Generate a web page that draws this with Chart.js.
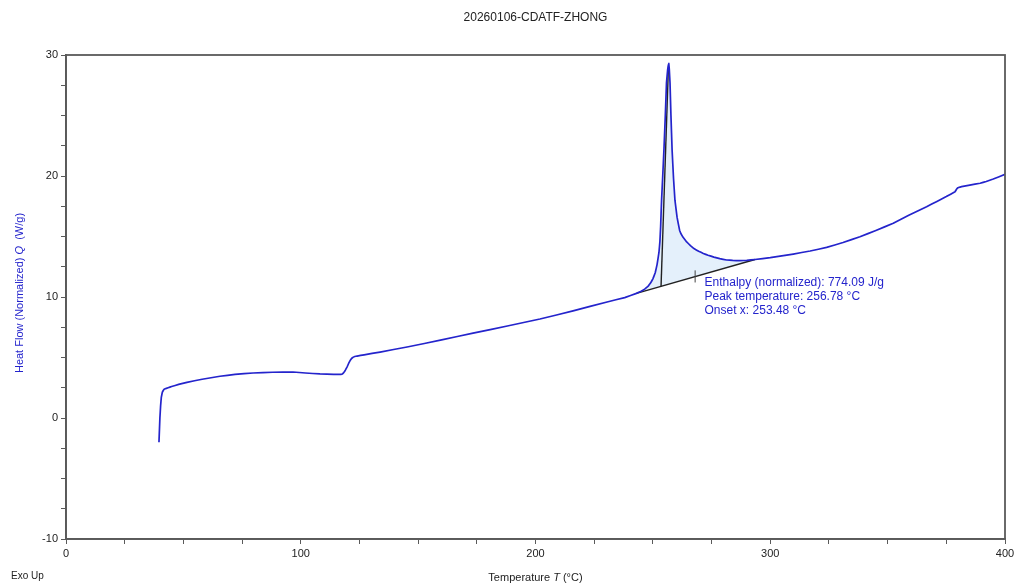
<!DOCTYPE html>
<html>
<head>
<meta charset="utf-8">
<title>20260106-CDATF-ZHONG</title>
<script src="https://cdn.jsdelivr.net/npm/chart.js@4.4.1/dist/chart.umd.min.js"></script>
<style>
  html, body { margin: 0; padding: 0; background: #fff; }
  #wrap { width: 1021px; height: 587px; }
</style>
</head>
<body>
<div id="wrap"><canvas id="dscChart" width="1021" height="587"></canvas></div>
<script>
// DSC trace: temperature (°C) and normalized heat flow (W/g)
var tempC = [
    39.6, 39.8, 40.0, 40.3, 40.6, 41.0, 41.5, 42.0, 43.5, 45.0,
    48.0, 51.5, 58.0, 65.6, 72.0, 79.7, 88.0, 96.7, 102.0, 108.2,
    114.0, 116.0, 117.5, 118.3, 119.0, 119.8, 120.5, 121.2, 122.0, 123.0,
    124.0, 127.0, 133.8, 145.3, 160.0, 173.4, 188.0, 201.9, 216.0, 230.5,
    238.0, 243.0, 245.0, 246.5, 248.0, 249.0, 250.0, 251.0, 251.8, 252.6,
    253.0, 253.3, 253.7, 254.2, 254.7, 255.3, 255.8, 256.3, 256.78, 257.0,
    257.3, 257.7, 258.2, 258.8, 259.4, 260.3, 261.4, 262.8, 264.4, 266.0,
    267.5, 269.5, 271.5, 273.5, 276.0, 278.5, 281.4, 284.0, 287.0, 290.0,
    293.5, 300.0, 309.8, 317.0, 324.0, 331.0, 338.2, 345.0, 352.4, 359.0,
    366.6, 371.0, 375.0, 378.7, 379.5, 380.2, 381.5, 385.0, 389.4, 392.0,
    395.0, 400.0
];
var heatFlow = [
    -2.0, -1.0, 0.0, 1.0, 1.7, 2.1, 2.3, 2.4, 2.5, 2.6,
    2.78, 2.95, 3.2, 3.45, 3.6, 3.72, 3.78, 3.80, 3.72, 3.64,
    3.6, 3.6, 3.62, 3.75, 3.95, 4.25, 4.55, 4.8, 4.98, 5.08,
    5.12, 5.22, 5.45, 5.87, 6.45, 7.02, 7.6, 8.18, 8.85, 9.59,
    9.95, 10.3, 10.48, 10.65, 10.9, 11.15, 11.5, 12.0, 12.7, 13.7,
    14.6, 15.8, 18.0, 20.0, 22.1, 25.0, 27.7, 28.8, 29.3, 28.8,
    27.7, 25.0, 22.1, 19.8, 18.0, 16.6, 15.5, 14.95, 14.55, 14.25,
    14.0, 13.78, 13.6, 13.45, 13.3, 13.17, 13.06, 13.02, 13.0, 13.03,
    13.1, 13.25, 13.55, 13.8, 14.1, 14.5, 14.98, 15.5, 16.09, 16.75,
    17.46, 17.9, 18.3, 18.7, 18.95, 19.05, 19.12, 19.25, 19.4, 19.55,
    19.75, 20.14
];

// integration baseline of the melting peak
var baseX = [243.0, 293.5];
var baseY = [10.3, 13.1];

// onset construction line and the half-area mark
var onsetX = [253.48, 256.6];
var onsetY = [10.88, 28.9];
var markX = [268.0, 268.0];
var markY = [11.2, 12.2];

var peakLabels = [
    'Enthalpy (normalized): 774.09 J/g',
    'Peak temperature: 256.78 °C',
    'Onset x: 253.48 °C'
];

var xTicks = { min: 0, max: 400, step: 25, labelEvery: 100 };
var yTicks = { min: -10, max: 30, step: 2.5, labelEvery: 10 };

function toPoints(xs, ys) {
    var pts = [];
    for (var i = 0; i < xs.length; i++) pts.push({ x: xs[i], y: ys[i] });
    return pts;
}

var curve = toPoints(tempC, heatFlow);
var peakArea = curve.filter(function (p) { return p.x >= baseX[0] && p.x <= baseX[1]; });

var BLUE = '#2424cc';
var AXIS = '#5a5a5a';
var FONT = '"Liberation Sans", Arial, sans-serif';

var framePlugin = {
    id: 'frameAndText',
    afterDraw: function (chart) {
        var ctx = chart.ctx;
        var a = chart.chartArea;
        var xs = chart.scales.x;
        var ys = chart.scales.y;
        ctx.save();

        ctx.strokeStyle = AXIS;
        ctx.lineWidth = 1.8;
        ctx.strokeRect(a.left, a.top, a.right - a.left, a.bottom - a.top);

        // title
        ctx.fillStyle = '#222';
        ctx.font = '12px ' + FONT;
        ctx.textAlign = 'center';
        ctx.textBaseline = 'middle';
        ctx.fillText('20260106-CDATF-ZHONG', (a.left + a.right) / 2, 18);

        // x axis title with italic symbol
        drawMixed(ctx, [
            { t: 'Temperature ', f: '11px ' + FONT },
            { t: 'T', f: 'italic 11px ' + FONT },
            { t: ' (°C)', f: '11px ' + FONT }
        ], (a.left + a.right) / 2, 578, '#222');

        ctx.font = '10px ' + FONT;
        ctx.textAlign = 'left';
        ctx.fillStyle = '#222';
        ctx.fillText('Exo Up', 11, 576);

        // y axis title, rotated
        ctx.save();
        ctx.translate(20, (a.top + a.bottom) / 2 - 4);
        ctx.rotate(-Math.PI / 2);
        drawMixed(ctx, [
            { t: 'Heat Flow (Normalized) ', f: '11px ' + FONT },
            { t: 'Q', f: 'italic 11px ' + FONT },
            { t: '  (W/g)', f: '11px ' + FONT }
        ], 0, 0, BLUE);
        ctx.restore();

        // peak analysis results
        ctx.font = '12px ' + FONT;
        ctx.fillStyle = BLUE;
        ctx.textAlign = 'left';
        ctx.textBaseline = 'middle';
        var tx = xs.getPixelForValue(272.0);
        var ty = ys.getPixelForValue(11.15);
        peakLabels.forEach(function (s, i) {
            ctx.fillText(s, tx, ty + i * 14);
        });
        ctx.restore();
    }
};

function drawMixed(ctx, parts, cx, cy, color) {
    var total = 0;
    parts.forEach(function (p) { ctx.font = p.f; total += ctx.measureText(p.t).width; });
    var x = cx - total / 2;
    ctx.fillStyle = color;
    ctx.textAlign = 'left';
    ctx.textBaseline = 'middle';
    parts.forEach(function (p) {
        ctx.font = p.f;
        ctx.fillText(p.t, x, cy);
        x += ctx.measureText(p.t).width;
    });
}

function axisTicks(cfg) {
    return {
        stepSize: cfg.step,
        autoSkip: false,
        color: '#222',
        font: { size: 11, family: FONT },
        callback: function (v) { return v % cfg.labelEvery === 0 ? v : ''; }
    };
}

new Chart(document.getElementById('dscChart'), {
    type: 'line',
    data: {
        datasets: [
            {
                // small tension keeps the full path renderer (no per-pixel min/max shortcut)
                data: curve, borderColor: BLUE, borderWidth: 1.7,
                pointRadius: 0, tension: 0.02, borderJoinStyle: 'round', fill: false
            },
            { data: toPoints(onsetX, onsetY), borderColor: '#222', borderWidth: 1.4, pointRadius: 0, fill: false },
            { data: toPoints(markX, markY), borderColor: '#444', borderWidth: 1, pointRadius: 0, fill: false },
            { data: toPoints(baseX, baseY), borderColor: '#222', borderWidth: 1.4, pointRadius: 0, fill: false },
            {
                data: peakArea, borderWidth: 0, borderColor: 'rgba(0,0,0,0)',
                backgroundColor: '#e4f0fb', pointRadius: 0,
                tension: 0.02, fill: { target: 3 }
            }
        ]
    },
    options: {
        responsive: false,
        animation: false,
        layout: { padding: { top: 55, right: 16, left: 0, bottom: 0 } },
        plugins: { legend: { display: false }, tooltip: { enabled: false } },
        scales: {
            x: {
                type: 'linear', min: xTicks.min, max: xTicks.max,
                ticks: axisTicks(xTicks),
                grid: { drawOnChartArea: false, drawTicks: true, tickLength: 5, color: AXIS },
                border: { display: true, color: AXIS, width: 1.8 },
                afterFit: function (s) { s.height = 48; }
            },
            y: {
                type: 'linear', min: yTicks.min, max: yTicks.max,
                ticks: axisTicks(yTicks),
                grid: { drawOnChartArea: false, drawTicks: true, tickLength: 5, color: AXIS },
                border: { display: true, color: AXIS, width: 1.8 },
                afterFit: function (s) { s.width = 66; }
            }
        }
    },
    plugins: [framePlugin]
});
</script>
</body>
</html>
